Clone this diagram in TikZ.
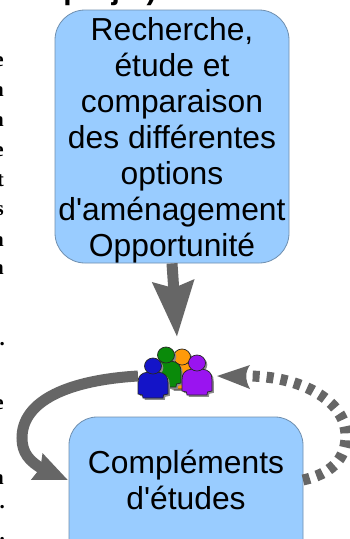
\documentclass[tikz,border=0pt]{standalone}
\usepackage{fontspec}
\setmainfont{Liberation Sans}
\newfontfamily\boxfont{Liberation Sans}
\newfontfamily\cutserif{Liberation Serif}
\usetikzlibrary{arrows.meta,bending}
\definecolor{boxfill}{HTML}{99CCFF}
\definecolor{boxline}{HTML}{6F8FAF}
\definecolor{arrowgrey}{HTML}{666666}
\definecolor{personblue}{HTML}{1414C8}
\definecolor{persongreen}{HTML}{0A8A0A}
\definecolor{personorange}{HTML}{FF9A0A}
\definecolor{personpurple}{HTML}{9A14F0}
\tikzset{
  x=1pt,y=1pt,
  stagebox/.style={draw=boxline,line width=0.8pt,fill=boxfill,rounded corners=30pt,minimum width=234pt,inner sep=0pt},
  stagetext/.style={inner sep=0pt,align=center,font=\boxfont\fontsize{31.8}{36}\selectfont},
  flowarrow/.style={draw=arrowgrey,line width=11pt},
  cutletter/.style={anchor=base east,inner sep=0pt,font=\cutserif\bfseries\fontsize{21}{21}\selectfont},
  groupnode/.style={minimum width=72pt,minimum height=50pt,inner sep=0pt},
}
\newcommand{\personbody}{(-5,-6) .. controls (-12,-7) and (-15,-10) .. (-15,-17) -- (-15,-28) -- (-10.5,-29) -- (-10,-32) -- (10,-32) -- (10.5,-29) -- (15,-28) -- (15,-17) .. controls (15,-10) and (12,-7) .. (5,-6) -- cycle}
\newcommand{\personfig}[3]{%
  \begin{scope}[shift={(#1+1.8,#2-1.8)}]
    \fill[black!45] (0,0) ellipse (8.5 and 8);
    \fill[black!45] \personbody;
  \end{scope}
  \begin{scope}[shift={(#1,#2)}]
    \filldraw[fill=#3,draw=black!85,line width=0.7pt] \personbody;
    \filldraw[fill=#3,draw=black!85,line width=0.7pt] (0,0) ellipse (8.5 and 8);
  \end{scope}}
\begin{document}
\begin{tikzpicture}
\useasboundingbox (0,0) rectangle (350,-539);
\clip (0,0) rectangle (350,-539);
\fill[white] (0,0) rectangle (350,-539);

\node[anchor=base,inner sep=0pt,font=\bfseries\fontsize{30}{30}\selectfont] (head) at (110,1) {projet)};

\node[cutletter] (l1) at (4,-66) {e};
\node[cutletter] (l2) at (4,-96) {n};
\node[cutletter] (l3) at (4,-126) {n};
\node[cutletter] (l4) at (4,-156) {e};
\node[cutletter] (l5) at (4,-186) {t};
\node[cutletter] (l6) at (4,-215) {s};
\node[cutletter] (l7) at (4,-246) {n};
\node[cutletter] (l8) at (4,-274) {n};
\node[cutletter] (l9) at (5,-345) {.};
\node[cutletter] (l10) at (4,-409) {e};
\node[cutletter] (l11) at (4,-484) {n};
\node[cutletter] (l12) at (5,-508) {.};
\node[cutletter] (l13) at (5,-540) {.};

\node[stagebox,minimum height=253pt] (study) at (172,-136.5) {};
\node[stagetext] (studytext) at (172,-140)
  {Recherche,\\étude et\\comparaison\\des différentes\\options\\d'aménagement\\Opportunité};
\node[stagebox,minimum height=160pt,rounded corners=28pt] (complement) at (186,-497) {};
\node[stagetext] (complementtext) at (186,-480) {Compléments\\d'études};

\node[groupnode] (group) at (177,-374) {};
\personfig{182}{-357}{personorange}
\personfig{166}{-355}{persongreen}
\personfig{197}{-363}{personpurple}
\personfig{153}{-366}{personblue}

\coordinate (groupin) at (177,-337);
\coordinate (groupleft) at (138,-376);
\coordinate (groupright) at (217,-376);
\coordinate (compin) at (68,-480);
\coordinate (compout) at (303,-480);

\draw[flowarrow,-{Stealth[length=55pt,width=40pt,inset=6pt]}] (study.south) -- (groupin);
\draw[flowarrow,-{Stealth[length=33pt,width=27pt,inset=3pt]}] (groupleft) .. controls (70,-380) and (22,-400) .. (22,-438) .. controls (22,-458) and (35,-468) .. (compin);
\draw[flowarrow,dash pattern=on 7pt off 7pt] (compout) .. controls (330,-474) and (346,-460) .. (346,-436) .. controls (346,-400) and (300,-376) .. (247,-376);
\fill[arrowgrey] (groupright) -- (250,-365) .. controls (245,-372) and (245,-380) .. (250,-389) -- cycle;
\end{tikzpicture}
\end{document}
